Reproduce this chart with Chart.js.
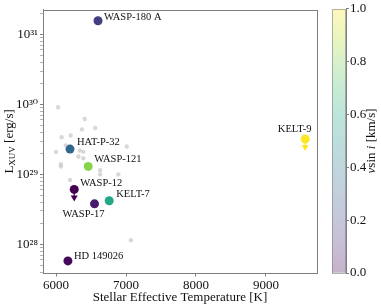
<!DOCTYPE html>
<html>
<head>
<meta charset="utf-8">
<script src="https://cdn.jsdelivr.net/npm/chart.js@4.4.1/dist/chart.umd.min.js"></script>
<style>
  html, body { margin: 0; padding: 0; background: #fff; }
  #wrap { position: relative; width: 381px; height: 305px; }
  #mainChart { position: absolute; left: 0; top: 0; }
  #cbarChart { position: absolute; left: 320px; top: 0; }
</style>
</head>
<body>
<div id="wrap">
  <canvas id="mainChart" width="381" height="305"></canvas>
  <canvas id="cbarChart" width="61" height="305"></canvas>
</div>
<script>
// Named planets
const planetNames = ['WASP-180 A', 'HAT-P-32', 'WASP-121', 'WASP-12', 'WASP-17', 'KELT-7', 'HD 149026', 'KELT-9'];
const planetTeff = [6600, 6200, 6460, 6260, 6550, 6760, 6170, 9560];
const planetLxuv = [1.57e31, 2.3e29, 1.3e29, 6.1e28, 3.8e28, 4.2e28, 5.8e27, 3.2e29];
const planetVsini = [0.18, 0.33, 0.82, 0.0, 0.07, 0.6, 0.02, 1.0];
const upperLimit = [false, false, false, true, false, false, false, true];

// Background sample (grey)
const grayTeff = [6030, 6410, 6370, 6560, 6080, 6210, 7010, 6000, 6140, 6340, 6390, 6070, 6070, 6320, 6390, 6630, 6630, 6890, 6200, 7070];
const grayLxuv = [9.1e29, 6.2e29, 4.4e29, 4.6e29, 3.4e29, 3.6e29, 2.5e29, 2.1e29, 2.6e29, 2.2e29, 2.1e29, 1.4e29, 1.3e29, 1.8e29, 1.7e29, 1.15e29, 1.0e29, 1.0e29, 8.3e28, 1.15e28];

// Axes
const xTicks = [6000, 7000, 8000, 9000];
const yDecades = [1e28, 1e29, 1e30, 1e31];
const cbarTicks = [0, 0.2, 0.4, 0.6, 0.8, 1.0];

// label placement (px offsets from the marker)
const labelPlacement = [
  { dx: 6, dy: -3.5, align: 'left' },
  { dx: 7, dy: -6.5, align: 'left' },
  { dx: 6, dy: -7, align: 'left' },
  { dx: 6, dy: -6, align: 'left' },
  { dx: -11, dy: 10.5, align: 'center' },
  { dx: 7, dy: -6.5, align: 'left' },
  { dx: 6, dy: -5, align: 'left' },
  { dx: -10.5, dy: -10, align: 'center' }
];

const SERIF = '"Liberation Serif", "DejaVu Serif", serif';
const SPINE = '#7f7f7f';

const viridis = ['#440154', '#482475', '#414487', '#355f8d', '#2a788e', '#21918c', '#22a884', '#44bf70', '#7ad151', '#bddf26', '#fde725'];

function hexRgb(h) {
  return [parseInt(h.slice(1, 3), 16), parseInt(h.slice(3, 5), 16), parseInt(h.slice(5, 7), 16)];
}
function viridisAt(t, alpha) {
  t = Math.max(0, Math.min(1, t));
  const p = t * (viridis.length - 1);
  const i = Math.min(Math.floor(p), viridis.length - 2);
  const f = p - i;
  const a = hexRgb(viridis[i]), b = hexRgb(viridis[i + 1]);
  const c = a.map((v, k) => Math.round(v + (b[k] - v) * f));
  return `rgba(${c[0]},${c[1]},${c[2]},${alpha === undefined ? 1 : alpha})`;
}

const supDigits = { '0': '⁰', '1': '¹', '2': '²', '3': '³', '4': '⁴', '5': '⁵', '6': '⁶', '7': '⁷', '8': '⁸', '9': '⁹', '-': '⁻' };
function powLabel(v) {
  const e = Math.round(Math.log10(v));
  return '10' + String(e).split('').map(c => supDigits[c]).join('');
}

// frame around the plot
const framePlugin = {
  id: 'frame',
  afterDraw(chart) {
    const { ctx, chartArea: a } = chart;
    ctx.save();
    ctx.strokeStyle = SPINE;
    ctx.lineWidth = 1;
    ctx.strokeRect(Math.round(a.left) + 0.5, Math.round(a.top) + 0.5, Math.round(a.right - a.left), Math.round(a.bottom - a.top));
    ctx.restore();
  }
};

// planet labels + upper-limit arrows
const annotatePlugin = {
  id: 'annotate',
  afterDatasetsDraw(chart) {
    const { ctx } = chart;
    const meta = chart.getDatasetMeta(0);
    ctx.save();
    meta.data.forEach((pt, i) => {
      const col = viridisAt(planetVsini[i]);
      if (upperLimit[i]) {
        ctx.strokeStyle = col;
        ctx.fillStyle = col;
        ctx.lineWidth = 1.2;
        ctx.beginPath();
        ctx.moveTo(pt.x, pt.y + 3);
        ctx.lineTo(pt.x, pt.y + 7);
        ctx.stroke();
        ctx.beginPath();
        ctx.moveTo(pt.x - 3.5, pt.y + 6);
        ctx.lineTo(pt.x + 3.5, pt.y + 6);
        ctx.lineTo(pt.x, pt.y + 12);
        ctx.closePath();
        ctx.fill();
      }
    });
    ctx.font = '10.5px ' + SERIF;
    ctx.fillStyle = '#111';
    ctx.textBaseline = 'middle';
    meta.data.forEach((pt, i) => {
      const p = labelPlacement[i];
      ctx.textAlign = p.align;
      ctx.fillText(planetNames[i], pt.x + p.dx, pt.y + p.dy);
    });
    ctx.restore();
  }
};

// y title with subscript
const yTitlePlugin = {
  id: 'ytitle',
  afterDraw(chart) {
    const { ctx, chartArea: a } = chart;
    const parts = [
      { t: 'L', f: '13px ' + SERIF, dy: 0 },
      { t: 'XUV', f: '9px ' + SERIF, dy: 3 },
      { t: ' [erg/s]', f: '13px ' + SERIF, dy: 0 }
    ];
    ctx.save();
    ctx.translate(10, (a.top + a.bottom) / 2);
    ctx.rotate(-Math.PI / 2);
    ctx.fillStyle = '#111';
    ctx.textBaseline = 'middle';
    ctx.textAlign = 'left';
    let total = 0;
    parts.forEach(p => { ctx.font = p.f; p.w = ctx.measureText(p.t).width; total += p.w; });
    let x = -total / 2;
    parts.forEach(p => { ctx.font = p.f; ctx.fillText(p.t, x, p.dy); x += p.w; });
    ctx.restore();
  }
};

new Chart(document.getElementById('mainChart'), {
  type: 'scatter',
  data: {
    datasets: [
      {
        label: 'planets',
        data: planetTeff.map((t, i) => ({ x: t, y: planetLxuv[i] })),
        pointBackgroundColor: planetVsini.map(v => viridisAt(v)),
        pointBorderWidth: 0,
        pointRadius: 4.5
      },
      {
        label: 'sample',
        data: grayTeff.map((t, i) => ({ x: t, y: grayLxuv[i] })),
        pointBackgroundColor: 'rgba(200,200,200,0.7)',
        pointBorderWidth: 0,
        pointRadius: 2.2
      }
    ]
  },
  options: {
    responsive: false,
    animation: false,
    events: [],
    layout: { padding: { left: 0, top: 7, right: 64, bottom: 0 } },
    plugins: { legend: { display: false }, tooltip: { enabled: false } },
    scales: {
      x: {
        type: 'linear',
        min: 5814,
        max: 9729,
        afterFit: s => { s.height = 32; },
        afterBuildTicks: s => { s.ticks = xTicks.map(v => ({ value: v })); },
        grid: { display: true, drawOnChartArea: false, tickLength: 3.5, color: SPINE },
        border: { color: SPINE },
        ticks: { font: { family: SERIF, size: 13 }, color: '#111', padding: 1, maxRotation: 0, callback: v => String(v) },
        title: { display: true, text: 'Stellar Effective Temperature [K]', font: { family: SERIF, size: 13 }, color: '#111', padding: 0 }
      },
      y: {
        type: 'logarithmic',
        min: 3.9e27,
        max: 2.25e31,
        afterFit: s => { s.width = 43; },
        afterBuildTicks: s => {
          const t = [];
          yDecades.concat([1e27]).forEach(d => {
            for (let k = 1; k <= 9; k++) {
              const v = k * d;
              if (v >= s.min && v <= s.max) t.push({ value: v, major: k === 1 });
            }
          });
          t.sort((a, b) => a.value - b.value);
          s.ticks = t;
        },
        grid: {
          display: true,
          drawOnChartArea: false,
          tickLength: 3,
          color: SPINE,
          tickWidth: c => (c.tick && c.tick.major ? 1 : 0.6)
        },
        border: { color: SPINE },
        ticks: {
          font: { family: SERIF, size: 13 },
          color: '#111',
          padding: 2,
          autoSkip: false,
          callback: (v, i, ticks) => (ticks[i].major ? powLabel(v) : '')
        }
      }
    }
  },
  plugins: [framePlugin, annotatePlugin, yTitlePlugin]
});

// colour bar
const cbarTitlePlugin = {
  id: 'cbtitle',
  afterDraw(chart) {
    const { ctx, chartArea: a } = chart;
    const it = 'italic 13px ' + SERIF, rg = '13px ' + SERIF;
    const parts = [{ t: 'v', f: it }, { t: 'sin ', f: rg }, { t: 'i', f: it }, { t: ' [km/s]', f: rg }];
    ctx.save();
    ctx.translate(52, (a.top + a.bottom) / 2);
    ctx.rotate(-Math.PI / 2);
    ctx.fillStyle = '#111';
    ctx.textBaseline = 'middle';
    let total = 0;
    parts.forEach(p => { ctx.font = p.f; p.w = ctx.measureText(p.t).width; total += p.w; });
    let x = -total / 2;
    parts.forEach(p => { ctx.font = p.f; ctx.fillText(p.t, x, 0); x += p.w; });
    ctx.strokeStyle = SPINE;
    ctx.restore();
    ctx.save();
    ctx.strokeStyle = 'rgba(127,127,127,0.6)';
    ctx.lineWidth = 1;
    ctx.strokeRect(Math.round(a.left) + 0.5, Math.round(a.top) + 0.5, Math.round(a.right - a.left) - 1, Math.round(a.bottom - a.top));
    ctx.restore();
  }
};

new Chart(document.getElementById('cbarChart'), {
  type: 'bar',
  data: {
    labels: ['vsini'],
    datasets: [{
      data: [[cbarTicks[0], cbarTicks[cbarTicks.length - 1]]],
      barPercentage: 1,
      categoryPercentage: 1,
      borderWidth: 0,
      backgroundColor: c => {
        const a = c.chart.chartArea;
        if (!a) return 'rgba(0,0,0,0)';
        const g = c.chart.ctx.createLinearGradient(0, a.bottom, 0, a.top);
        for (let k = 0; k <= 20; k++) g.addColorStop(k / 20, viridisAt(k / 20, 0.3));
        return g;
      }
    }]
  },
  options: {
    responsive: false,
    animation: false,
    events: [],
    layout: { padding: { left: 12, top: 7, right: 0, bottom: 32 } },
    plugins: { legend: { display: false }, tooltip: { enabled: false } },
    scales: {
      x: { display: false },
      y: {
        position: 'right',
        min: 0,
        max: 1,
        afterFit: s => { s.width = 35; },
        afterBuildTicks: s => { s.ticks = cbarTicks.map(v => ({ value: v })); },
        grid: { display: true, drawOnChartArea: false, tickLength: 3, color: SPINE },
        border: { color: SPINE },
        ticks: { font: { family: SERIF, size: 13 }, color: '#111', padding: 1, callback: v => v.toFixed(1) }
      }
    }
  },
  plugins: [cbarTitlePlugin]
});
</script>
</body>
</html>
